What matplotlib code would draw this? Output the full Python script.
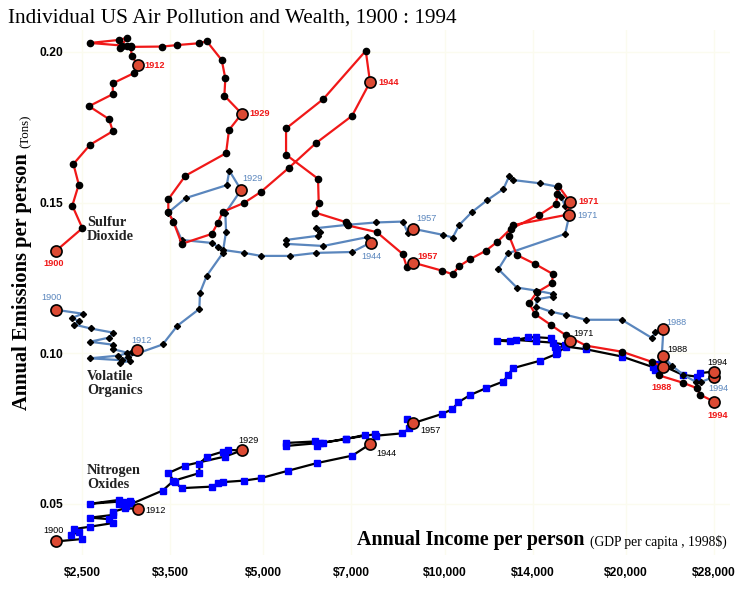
import matplotlib.pyplot as plt

# GDP per capita (1998$) and emissions per person (tons), one point per year
so2_income = [2264, 2503, 2409, 2469, 2419, 2578, 2812, 2772, 2568, 2812,
              2812, 3050, 3093, 3023, 3011, 2914, 2891, 2966, 2880, 2578,
              2973, 3015, 3398, 3599, 3910, 4027, 4265, 4324, 4308, 4604,
              4385, 4336, 3711, 3477, 3477, 3545, 3660, 4105, 4200, 4281,
              4645, 4950, 5517, 6110, 7019, 7518, 7397, 6290, 5454, 5454,
              6163, 6179, 6093, 6859, 6911, 7714, 8521, 8652, 8853, 9902,
              10315, 10553, 11019, 11703, 12233, 12876, 14363, 15312, 15388, 15446,
              16153, 15909, 12976, 12792, 13176, 14131, 15120, 15080, 14223, 13808,
              14131, 15003, 15909, 17174, 19686, 22106, 23082, 22729, 24860, 26228,
              26558, 28023]
so2_tons = [0.1340, 0.1415, 0.1490, 0.1560, 0.1628, 0.1692, 0.1737, 0.1777, 0.1820, 0.1860,
            0.1896, 0.1930, 0.1958, 0.1987, 0.2020, 0.2020, 0.2013, 0.2047, 0.2040, 0.2030,
            0.2020, 0.2017, 0.2018, 0.2023, 0.2029, 0.2036, 0.1973, 0.1912, 0.1855, 0.1795,
            0.1741, 0.1664, 0.1589, 0.1511, 0.1468, 0.1437, 0.1363, 0.1396, 0.1432, 0.1469,
            0.1499, 0.1535, 0.1616, 0.1697, 0.1788, 0.1900, 0.2004, 0.1844, 0.1746, 0.1659,
            0.1579, 0.1499, 0.1467, 0.1435, 0.1424, 0.1402, 0.1329, 0.1286, 0.1301, 0.1274,
            0.1262, 0.1288, 0.1312, 0.1340, 0.1370, 0.1413, 0.1459, 0.1495, 0.1527, 0.1556,
            0.1502, 0.1459, 0.1425, 0.1390, 0.1326, 0.1296, 0.1263, 0.1232, 0.1202, 0.1166,
            0.1130, 0.1094, 0.1059, 0.1025, 0.1005, 0.0971, 0.0954, 0.0926, 0.0902, 0.0884,
            0.0862, 0.0839]

voc_income = [2264, 2507, 2404, 2472, 2428, 2585, 2819, 2775, 2578, 2819,
              2819, 2966, 3088, 3023, 2873, 2578, 3003, 2891, 2910, 2981,
              3403, 3599, 3915, 3925, 4027, 4281, 4336, 4324, 4592, 4390,
              4348, 3717, 3477, 3541, 3660, 4110, 4210, 4281, 4645, 4956,
              5537, 6116, 7019, 7538, 7425, 6290, 5454, 5454, 6170, 6210,
              6116, 6878, 7693, 8521, 8685, 8873, 9928, 10315, 10578, 11092,
              11748, 12517, 12806, 12976, 14402, 15388, 15608, 15850, 16110, 15850,
              12758, 12279, 13176, 14184, 15120, 15120, 14223, 14184, 15003, 15909,
              17174, 19686, 22106, 22363, 23082, 22940, 23864, 24917, 26157, 26630,
              28023]
voc_tons = [0.1144, 0.1131, 0.1117, 0.1106, 0.1095, 0.1082, 0.1068, 0.1052, 0.1038, 0.1028,
            0.1013, 0.1002, 0.1009, 0.1004, 0.0992, 0.0983, 0.0975, 0.0967, 0.0978, 0.0988,
            0.1029, 0.1091, 0.1147, 0.1201, 0.1257, 0.1332, 0.1404, 0.1465, 0.1542, 0.1606,
            0.1558, 0.1515, 0.1467, 0.1439, 0.1376, 0.1366, 0.1352, 0.1343, 0.1333, 0.1323,
            0.1323, 0.1333, 0.1336, 0.1367, 0.1385, 0.1356, 0.1363, 0.1376, 0.1390, 0.1404,
            0.1415, 0.1426, 0.1434, 0.1437, 0.1400, 0.1413, 0.1393, 0.1384, 0.1426, 0.1468,
            0.1507, 0.1545, 0.1589, 0.1575, 0.1564, 0.1553, 0.1519, 0.1489, 0.1459, 0.1396,
            0.1332, 0.1279, 0.1218, 0.1208, 0.1197, 0.1188, 0.1179, 0.1155, 0.1138, 0.1127,
            0.1111, 0.1111, 0.1050, 0.1070, 0.1080, 0.0994, 0.0958, 0.0928, 0.0904, 0.0904,
            0.0922]

nox_income = [2264, 2497, 2472, 2397, 2425, 2578, 2812, 2772, 2578, 2812,
              2819, 2947, 3093, 3015, 2884, 2578, 3003, 2884, 2928, 2958,
              3403, 3545, 3915, 3915, 4027, 4281, 4374, 4604, 4320, 3707,
              3477, 3568, 3660, 4105, 4210, 4281, 4645, 4950, 5502, 6133,
              7027, 7518, 7377, 6859, 6290, 5454, 5454, 6093, 6147, 6210,
              6859, 7665, 7693, 8507, 8737, 8671, 8873, 9890, 10299, 10538,
              11019, 11716, 12517, 12758, 12976, 14402, 15312, 15354, 16153, 15850,
              15155, 14184, 13140, 12205, 12841, 13772, 14184, 15003, 15255, 15354,
              15909, 17174, 19686, 22165, 22363, 23029, 22617, 24860, 26287, 26558,
              28023]
nox_tons = [0.0375, 0.0383, 0.0408, 0.0395, 0.0416, 0.0424, 0.0436, 0.0449, 0.0454, 0.0463,
            0.0474, 0.0485, 0.0484, 0.0503, 0.0513, 0.0500, 0.0510, 0.0500, 0.0507, 0.0492,
            0.0544, 0.0576, 0.0602, 0.0632, 0.0657, 0.0673, 0.0679, 0.0677, 0.0657, 0.0627,
            0.0602, 0.0571, 0.0552, 0.0557, 0.0568, 0.0572, 0.0577, 0.0585, 0.0610, 0.0635,
            0.0660, 0.0698, 0.0729, 0.0715, 0.0703, 0.0692, 0.0702, 0.0707, 0.0692, 0.0701,
            0.0716, 0.0731, 0.0726, 0.0734, 0.0750, 0.0783, 0.0768, 0.0798, 0.0814, 0.0837,
            0.0861, 0.0884, 0.0906, 0.0928, 0.0950, 0.0975, 0.0997, 0.1013, 0.1039, 0.1028,
            0.1035, 0.1039, 0.1044, 0.1042, 0.1039, 0.1053, 0.1053, 0.1050, 0.1022, 0.1000,
            0.1022, 0.1013, 0.0989, 0.0954, 0.0945, 0.0991, 0.0965, 0.0928, 0.0922, 0.0934,
            0.0939]

# highlighted years and where they sit in each series
key_years = [1900, 1912, 1929, 1944, 1957, 1971, 1988, 1994]
so2_key = [0, 12, 29, 45, 58, 70, 86, 91]
voc_key = [0, 12, 28, 43, 55, 68, 84, 90]
nox_key = [0, 12, 27, 41, 56, 68, 85, 90]

income_ticks = [2500, 3500, 5000, 7000, 10000, 14000, 20000, 28000]
income_labels = ['\\$2,500', '\\$3,500', '\\$5,000', '\\$7,000',
                 '\\$10,000', '\\$14,000', '\\$20,000', '\\$28,000']
tons_ticks = [0.05, 0.10, 0.15, 0.20]
tons_labels = ['0.05', '0.10', '0.15', '0.20']

RED = '#f01818'
STEEL = '#5a86bd'
KEYFILL = '#dc4a33'
SERIF = 'Liberation Serif'
SANS = 'Liberation Sans'

fig = plt.figure(figsize=(7.5, 5.9), dpi=100)
ax = fig.add_axes([40 / 750, 35 / 590, 690 / 750, 525 / 590])
ax.set_xscale('log')
ax.set_xlim(2129, 29770)
ax.set_ylim(0.0330, 0.2073)

# lines
ax.plot(nox_income, nox_tons, color='black', lw=1.6, zorder=2,
        marker='s', ms=4.2, mfc='#0000ff', mec='#0000ff')
ax.plot(voc_income, voc_tons, color=STEEL, lw=1.6, zorder=3,
        marker='D', ms=3.1, mfc='black', mec='black')
ax.plot(so2_income, so2_tons, color=RED, lw=1.6, zorder=4,
        marker='o', ms=4.5, mfc='black', mec='black')

# highlighted years
series = [
    (so2_income, so2_tons, so2_key, RED, 'bold',
     [(-2, -13, 'center'), (7, -1, 'left'), (8, 0, 'left'), (8, 0, 'left'),
      (5, 6, 'left'), (8, 0, 'left'), (-2, -20, 'center'), (3, -14, 'center')]),
    (voc_income, voc_tons, voc_key, STEEL, 'normal',
     [(-5, 12, 'center'), (4, 10, 'center'), (1, 11, 'left'), (1, -14, 'center'),
      (3, 10, 'left'), (8, -1, 'left'), (3, 7, 'left'), (4, -12, 'center')]),
    (nox_income, nox_tons, nox_key, 'black', 'normal',
     [(-3, 11, 'center'), (8, -2, 'left'), (7, 10, 'center'), (6, -9, 'left'),
      (7, -7, 'left'), (3, 8, 'left'), (5, 6, 'left'), (3, 9, 'center')]),
]
for xs, ys, keys, col, wt, offs in series:
    kx = [xs[i] for i in keys]
    ky = [ys[i] for i in keys]
    ax.plot(kx, ky, ls='none', marker='o', ms=8, mfc=KEYFILL, mec='black',
            mew=1.2, zorder=6)
    for yr, x, y, (dx, dy, ha) in zip(key_years, kx, ky, offs):
        ax.annotate(str(yr), (x, y), xytext=(dx * 0.72, dy * 0.72),
                    textcoords='offset points', ha=ha, va='center',
                    fontsize=6.6, color=col, fontweight=wt, family=SANS, zorder=7)

# series names
name_style = dict(family=SERIF, fontsize=10.3, fontweight='bold', color='#222222',
                  ha='left', va='center', linespacing=1.05)
ax.text(2548, 0.1411, 'Sulfur\nDioxide', **name_style)
ax.text(2548, 0.0900, 'Volatile\nOrganics', **name_style)
ax.text(2548, 0.0588, 'Nitrogen\nOxides', **name_style)

# axes styling
ax.set_xticks(income_ticks)
ax.set_xticklabels(income_labels)
ax.minorticks_off()
ax.set_yticks(tons_ticks)
ax.set_yticklabels(tons_labels)
ax.tick_params(length=0, labelsize=8.7)
ax.tick_params(axis='y', pad=-17)
ax.tick_params(axis='x', pad=8.5)
for lab in ax.get_xticklabels() + ax.get_yticklabels():
    lab.set_fontweight('bold')
    lab.set_family(SANS)
for s in ax.spines.values():
    s.set_visible(False)
ax.grid(True, color='#fbfbef', lw=1)
ax.set_axisbelow(True)

# titles
fig.text(8 / 750, 1 - 18 / 590, 'Individual US Air Pollution and Wealth, 1900 : 1994',
         family=SERIF, fontsize=15.3, ha='left', va='center')
fig.text(22 / 750, 1 - 282 / 590, 'Annual Emissions per person', family=SERIF,
         fontsize=14.8, fontweight='bold', rotation=90, ha='center', va='center')
fig.text(26 / 750, 1 - 131 / 590, '(Tons)', family=SERIF, fontsize=9.3,
         rotation=90, ha='center', va='center')
fig.text(471 / 750, 1 - 540 / 590, 'Annual Income per person', family=SERIF,
         fontsize=14.4, fontweight='bold', ha='center', va='center')
fig.text(590 / 750, 1 - 542 / 590, '(GDP per capita , 1998\\$)', family=SERIF,
         fontsize=9.8, ha='left', va='center')

fig.savefig('out.png', dpi=100)
